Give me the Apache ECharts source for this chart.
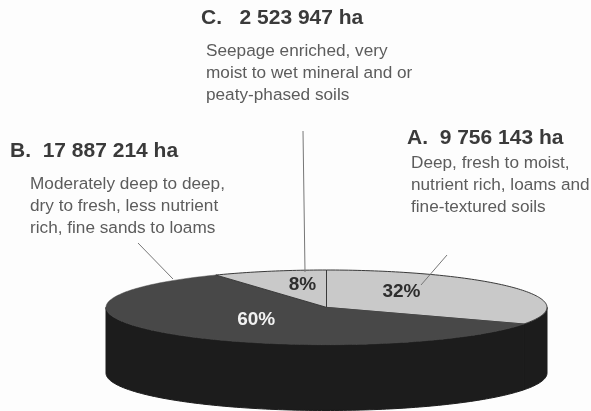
<!DOCTYPE html>
<html>
<head>
<meta charset="utf-8">
<style>html,body{margin:0;padding:0;background:#fdfdfd}#c{width:591px;height:411px}</style>
<script src="https://cdn.jsdelivr.net/npm/echarts@6/dist/echarts.min.js"></script>
</head>
<body>
<div id="c"></div>
<script>
// Forest area by soil group, clockwise from twelve o'clock
const groups = ['A', 'B', 'C'];
const hectares = [9756143, 17887214, 2523947];
const hectareLabels = ['9 756 143 ha', '17 887 214 ha', '2 523 947 ha'];
const percentLabels = ['32%', '60%', '8%'];
const descriptions = [
  ['Deep, fresh to moist,', 'nutrient rich, loams and', 'fine-textured soils'],
  ['Moderately deep to deep,', 'dry to fresh, less nutrient', 'rich, fine sands to loams'],
  ['Seepage enriched, very', 'moist to wet mineral and or', 'peaty-phased soils']
];

// Drawing style
const faceColors = ['#c9c9c9', '#484848', '#c9c9c9'];
const labelColors = ['#2e2e2e', '#f2f2f2', '#2e2e2e'];
const wallColor = '#1c1c1c';
const DEPTH = 1.76;            // wall height in axis units (face radius = 1)
const TAU = Math.PI * 2;

const total = hectares.reduce((a, b) => a + b, 0);
let running = 0;
const slices = hectares.map((v, i) => {
  const start = running / total * TAU;
  running += v;
  return [i, start, running / total * TAU];
});

// Unit circle position for an angle measured clockwise from the top
const onRim = (a, drop) => [Math.sin(a), Math.cos(a) - (drop || 0)];
const arc = (from, to, drop) => {
  const steps = Math.max(2, Math.ceil((to - from) / 0.02));
  const pts = [];
  for (let k = 0; k <= steps; k++) pts.push(onRim(from + (to - from) * k / steps, drop));
  return pts;
};

function renderWall(params, api) {
  const from = Math.max(api.value(1), Math.PI / 2);
  const to = Math.min(api.value(2), Math.PI * 1.5);
  if (to <= from) return null;
  const pts = arc(from, to, 0).concat(arc(from, to, DEPTH).reverse()).map(p => api.coord(p));
  return { type: 'polygon', shape: { points: pts }, style: { fill: wallColor, stroke: wallColor, lineWidth: 1 } };
}

function renderFace(params, api) {
  const i = api.value(0);
  const pts = [[0, 0]].concat(arc(api.value(1), api.value(2), 0)).map(p => api.coord(p));
  return {
    type: 'polygon',
    shape: { points: pts },
    style: { fill: faceColors[i], stroke: i === 1 ? faceColors[i] : '#3a3a3a', lineWidth: i === 1 ? 0.5 : 1 }
  };
}

// Percent labels sit at a share of the rim along each slice's middle direction
const labelReach = [[0.40, 0.77], [0.466, 0.44], [0.42, 0.62]];
function renderPercent(params, api) {
  const i = api.value(0);
  const p = onRim((api.value(1) + api.value(2)) / 2);
  const at = api.coord([p[0] * labelReach[i][0], p[1] * labelReach[i][1]]);
  return {
    type: 'text',
    x: at[0], y: at[1],
    style: {
      text: percentLabels[i], fill: labelColors[i], align: 'center', verticalAlign: 'middle',
      font: 'bold 19px "Liberation Sans", Arial, sans-serif'
    }
  };
}

// Text block for one group: bold heading plus three description lines
function textBlock(i, hx, hy, gap, bx, by) {
  const out = [{
    type: 'text', left: hx, top: hy,
    style: { text: groups[i] + '.' + gap + hectareLabels[i], fill: '#3a3a3a',
      font: 'bold 21px "Liberation Sans", Arial, sans-serif' }
  }];
  descriptions[i].forEach((line, k) => out.push({
    type: 'text', left: bx, top: by + k * 22,
    style: { text: line, fill: '#5c5c5c', font: '17.2px "Liberation Sans", Arial, sans-serif' }
  }));
  return out;
}

const leader = (x1, y1, x2, y2) => ({
  type: 'line', z: 10,
  shape: { x1, y1, x2, y2 },
  style: { stroke: '#777777', lineWidth: 1 }
});

const chart = echarts.init(document.getElementById('c'), null, { renderer: 'canvas' });
chart.setOption({
  animation: false,
  backgroundColor: '#fdfdfd',
  grid: { left: 106, width: 441, top: 270, height: 140.5 },
  xAxis: { type: 'value', min: -1, max: 1, show: false },
  yAxis: { type: 'value', min: -1 - DEPTH, max: 1, show: false },
  series: [
    { type: 'custom', coordinateSystem: 'cartesian2d', clip: false, z: 1, renderItem: renderWall, data: slices, encode: { x: 1, y: 2 } },
    { type: 'custom', coordinateSystem: 'cartesian2d', clip: false, z: 2, renderItem: renderFace, data: slices, encode: { x: 1, y: 2 } },
    { type: 'custom', coordinateSystem: 'cartesian2d', clip: false, z: 3, renderItem: renderPercent, data: slices, encode: { x: 1, y: 2 } }
  ],
  graphic: [
    ...textBlock(2, 201, 8, '   ', 206, 43),
    ...textBlock(1, 10, 141, '  ', 30, 176),
    ...textBlock(0, 407, 128, '  ', 411, 155),
    leader(303, 131, 305, 272),
    leader(138, 243, 173, 279),
    leader(447, 255, 421, 285)
  ]
});
</script>
</body>
</html>
